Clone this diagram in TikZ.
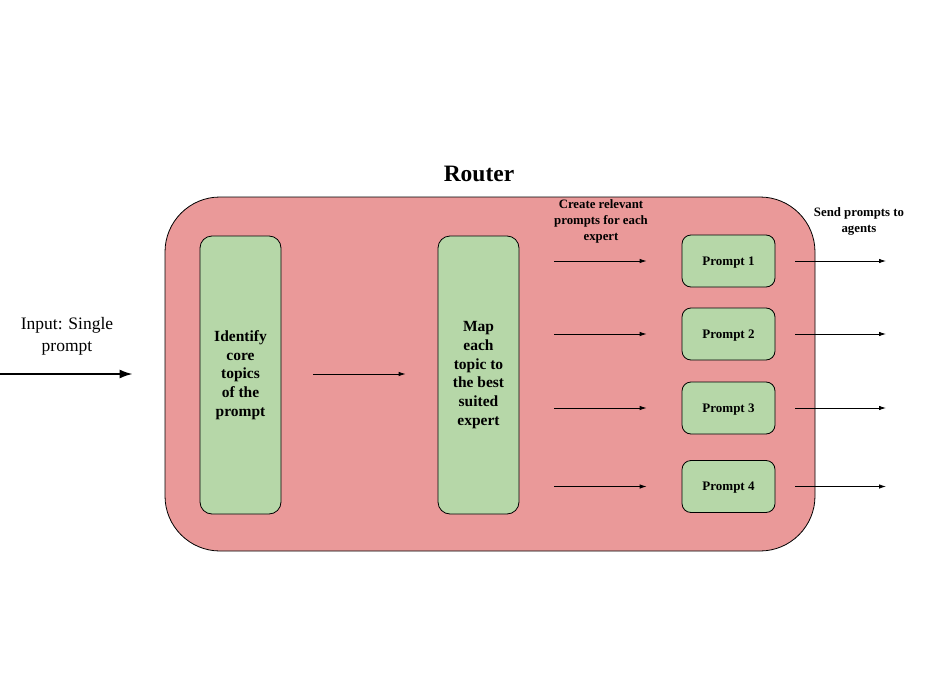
\documentclass[tikz,border=0pt]{standalone}
\usepackage{fontspec}
\setmainfont{Liberation Serif}
\usetikzlibrary{arrows.meta}
\definecolor{routerred}{HTML}{EA9999}
\definecolor{stagegreen}{HTML}{B6D7A8}
\tikzset{
  stagebox/.style={draw, fill=stagegreen, line width=0.8pt, rounded corners=12pt, minimum width=81pt, minimum height=278pt, inner sep=2pt, align=center, font=\fontsize{15.5}{18.7}\selectfont\bfseries},
  promptbox/.style={draw, fill=stagegreen, line width=0.8pt, rounded corners=9pt, minimum width=93pt, minimum height=52pt, text depth=0pt, font=\fontsize{13}{15}\selectfont\bfseries},
  note/.style={align=center, font=\fontsize{12.8}{16}\selectfont\bfseries},
}
\begin{document}
\begin{tikzpicture}[x=1pt, y=-1pt, >={Latex[length=7pt,width=4.5pt]}, line width=0.8pt]
				\useasboundingbox (0,0) rectangle (940,677);
				\node[draw, fill=routerred, rounded corners=55pt, minimum width=650pt, minimum height=354pt] (router) at (490,374) {};
				\node[font=\fontsize{23.5}{27}\selectfont\bfseries] (title) at (479,174) {Router};
				\node[stagebox] (identify) at (240.5,375) {Identify\\core\\topics\\of the\\prompt};
				\node[stagebox] (map) at (478.5,375) {Map\\each\\topic to\\the best\\suited\\expert};
				\node[promptbox] (p1) at (728.5,261) {Prompt 1};
				\node[promptbox] (p2) at (728.5,334) {Prompt 2};
				\node[promptbox] (p3) at (728.5,408) {Prompt 3};
				\node[promptbox] (p4) at (728.5,486.5) {Prompt 4};
				\node[align=center, font=\fontsize{17.5}{22}\selectfont] (input) at (67,336) {Input: Single\\prompt};
				\node[note] (create) at (601,221) {Create relevant\\prompts for each\\expert};
				\node[note] (send) at (859,221) {Send prompts to\\agents};
				\coordinate (start) at (0,374);
				\draw[-{Latex[length=13pt,width=9pt]}, line width=1.8pt, shorten >=67pt] (start) -- (identify.west |- start);
				\draw[->, shorten <=32pt, shorten >=32pt] (identify.east |- start) -- (map.west |- start);
				\foreach \p in {p1,p2,p3,p4} {
					\coordinate (out\p) at (886,0 |- \p);
					\draw[->, shorten <=35pt, shorten >=35pt] (map.east |- \p) -- (\p.west);
					\draw[->, shorten <=20pt] (\p.east) -- (out\p);
				}
			\end{tikzpicture}
\end{document}
